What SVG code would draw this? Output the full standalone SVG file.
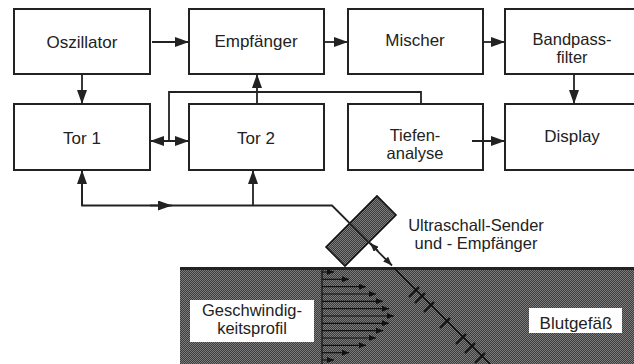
<svg xmlns="http://www.w3.org/2000/svg" width="634" height="364" viewBox="0 0 634 364">
  <defs>
    <style>
      .box { fill: #ffffff; stroke: #222222; stroke-width: 2; }
      .lbl { font-family: "Liberation Sans", Arial, sans-serif; font-size: 17px; fill: #222222; text-anchor: middle; }
      .two { font-size: 16.5px; }
      .wire { fill: none; stroke: #222222; stroke-width: 1.8; }
      .flow { stroke: #111111; stroke-width: 1.2; marker-end: url(#tip); }
      .tick { stroke: #111111; stroke-width: 2; }
    </style>
    <!-- stippled grey used for the vessel and the probe -->
    <pattern id="stipple" width="2" height="2" patternUnits="userSpaceOnUse">
      <rect width="2" height="2" fill="#3c3c3c"/>
      <rect width="1" height="1" fill="#7c7c7c"/>
      <rect x="1" y="1" width="1" height="1" fill="#7c7c7c"/>
    </pattern>
    <marker id="head" viewBox="0 0 14 10" refX="14" refY="5" markerWidth="14" markerHeight="10" markerUnits="userSpaceOnUse" orient="auto-start-reverse">
      <path d="M0,0 L14,5 L0,10 Z" fill="#222222"/>
    </marker>
    <marker id="small" viewBox="0 0 9 7" refX="9" refY="3.5" markerWidth="9" markerHeight="7" markerUnits="userSpaceOnUse" orient="auto">
      <path d="M0,0 L9,3.5 L0,7 Z" fill="#222222"/>
    </marker>
    <marker id="tip" viewBox="0 0 7 6" refX="7" refY="3" markerWidth="7" markerHeight="6" markerUnits="userSpaceOnUse" orient="auto">
      <path d="M0,0 L7,3 L0,6 Z" fill="#111111"/>
    </marker>
  </defs>

  <rect width="634" height="364" fill="#ffffff"/>

  <!-- blood vessel cross-section -->
  <g id="vessel">
    <rect x="180" y="267" width="454" height="97" fill="url(#stipple)"/>
    <line x1="180" y1="268.5" x2="634" y2="268.5" stroke="#222222" stroke-width="3"/>
    <line x1="322" y1="270" x2="322" y2="364" stroke="#111111" stroke-width="1.2"/>
    <!-- parabolic velocity profile -->
    <line class="flow" x1="322" y1="272" x2="334" y2="272"/>
    <line class="flow" x1="322" y1="279.3" x2="349" y2="279.3"/>
    <line class="flow" x1="322" y1="286.7" x2="366" y2="286.7"/>
    <line class="flow" x1="322" y1="294" x2="376" y2="294"/>
    <line class="flow" x1="322" y1="301.3" x2="383" y2="301.3"/>
    <line class="flow" x1="322" y1="308.7" x2="389" y2="308.7"/>
    <line class="flow" x1="322" y1="316" x2="394" y2="316"/>
    <line class="flow" x1="322" y1="323.3" x2="389" y2="323.3"/>
    <line class="flow" x1="322" y1="330.7" x2="383" y2="330.7"/>
    <line class="flow" x1="322" y1="338" x2="376" y2="338"/>
    <line class="flow" x1="322" y1="345.3" x2="366" y2="345.3"/>
    <line class="flow" x1="322" y1="352.7" x2="349" y2="352.7"/>
    <line class="flow" x1="322" y1="360" x2="334" y2="360"/>
    <!-- beam path with sample-gate ticks -->
    <line x1="394" y1="268" x2="492" y2="366" stroke="#111111" stroke-width="1.5"/>
    <line class="tick" x1="419" y1="287" x2="409" y2="297"/>
    <line class="tick" x1="425" y1="293" x2="415" y2="303"/>
    <line class="tick" x1="434" y1="302" x2="424" y2="312"/>
    <line class="tick" x1="450" y1="318" x2="440" y2="328"/>
    <line class="tick" x1="466" y1="334" x2="456" y2="344"/>
    <line class="tick" x1="475" y1="343" x2="465" y2="353"/>
    <line class="tick" x1="485" y1="353" x2="475" y2="363"/>
  </g>

  <g id="profile-label">
    <rect x="190" y="300" width="124" height="42" fill="#ffffff"/>
    <text class="lbl two" x="252" y="316">Geschwindig-</text>
    <text class="lbl two" x="252" y="334">keitsprofil</text>
  </g>

  <g id="vessel-label">
    <rect x="529" y="308" width="93" height="25" fill="#ffffff"/>
    <text class="lbl" x="576" y="329">Blutgefäß</text>
  </g>

  <!-- ultrasound transducer -->
  <g id="probe">
    <polygon points="326,247 377,196 396,215 345,266" fill="url(#stipple)" stroke="#111111" stroke-width="1.6"/>
    <text class="lbl two" x="476" y="231">Ultraschall-Sender</text>
    <text class="lbl two" x="476" y="249">und - Empfänger</text>
  </g>

  <g id="oszillator">
    <rect class="box" x="14" y="9" width="136" height="65"/>
    <text class="lbl" x="82" y="48">Oszillator</text>
  </g>
  <g id="empfaenger">
    <rect class="box" x="189" y="9" width="135" height="65"/>
    <text class="lbl" x="256" y="47">Empfänger</text>
  </g>
  <g id="mischer">
    <rect class="box" x="348" y="9" width="135" height="65"/>
    <text class="lbl" x="415" y="46">Mischer</text>
  </g>
  <g id="bandpassfilter">
    <rect class="box" x="505" y="9" width="135" height="65"/>
    <text class="lbl two" x="572" y="45">Bandpass-</text>
    <text class="lbl two" x="572" y="63">filter</text>
  </g>
  <g id="tor1">
    <rect class="box" x="14" y="104" width="136" height="66"/>
    <text class="lbl" x="82" y="144">Tor 1</text>
  </g>
  <g id="tor2">
    <rect class="box" x="189" y="104" width="135" height="66"/>
    <text class="lbl" x="256" y="144">Tor 2</text>
  </g>
  <g id="tiefenanalyse">
    <rect class="box" x="348" y="104" width="135" height="66"/>
    <text class="lbl two" x="415" y="141">Tiefen-</text>
    <text class="lbl two" x="415" y="159">analyse</text>
  </g>
  <g id="display">
    <rect class="box" x="505" y="104" width="135" height="66"/>
    <text class="lbl" x="572" y="142">Display</text>
  </g>

  <g id="connectors">
    <line class="wire" x1="152" y1="42" x2="189" y2="42" marker-end="url(#head)"/>
    <line class="wire" x1="325" y1="42" x2="348" y2="42" marker-end="url(#head)"/>
    <line class="wire" x1="484" y1="42" x2="505" y2="42" marker-end="url(#head)"/>
    <line class="wire" x1="82" y1="75" x2="82" y2="104" marker-end="url(#head)"/>
    <line class="wire" x1="574" y1="75" x2="574" y2="104" marker-end="url(#head)"/>
    <line class="wire" x1="472" y1="141" x2="505" y2="141" marker-end="url(#head)"/>
    <line class="wire" x1="257" y1="104" x2="257" y2="74" marker-end="url(#head)"/>
    <!-- depth bus to both gates -->
    <polyline class="wire" points="421,104 421,92 169,92 169,141"/>
    <line class="wire" x1="150" y1="141" x2="189" y2="141" marker-start="url(#head)" marker-end="url(#head)"/>
    <!-- transducer line feeding both gates -->
    <polyline class="wire" points="82,171 82,205.5 332,205.5 392,265.5" marker-end="url(#small)"/>
    <line class="wire" x1="82" y1="205.5" x2="82" y2="170" marker-end="url(#head)"/>
    <line class="wire" x1="253" y1="205.5" x2="253" y2="170" marker-end="url(#head)"/>
    <line class="wire" x1="150" y1="205.5" x2="172" y2="205.5" marker-end="url(#head)"/>
    <line class="wire" x1="378" y1="251" x2="370" y2="243" marker-end="url(#small)"/>
  </g>
</svg>
